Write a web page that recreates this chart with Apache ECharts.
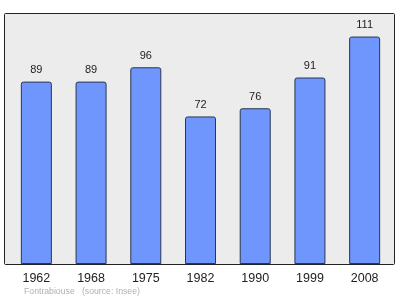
<!DOCTYPE html>
<html>
<head>
<meta charset="utf-8">
<script src="https://cdn.jsdelivr.net/npm/echarts@6/dist/echarts.min.js"></script>
<style>html,body{margin:0;padding:0;background:#fff;}#c{width:400px;height:299px;}</style>
</head>
<body>
<div id="c"></div>
<script>
var years = ['1962', '1968', '1975', '1982', '1990', '1999', '2008'];
var population = [89, 89, 96, 72, 76, 91, 111];
var footerText = 'Fontrabiouse   (source: Insee)';

var chart = echarts.init(document.getElementById('c'), null, {renderer: 'canvas'});
chart.setOption({
  animation: false,
  backgroundColor: '#ffffff',
  grid: {left: 9, right: 8, top: 14, bottom: 35},
  graphic: [
    {type: 'rect', z: -10, shape: {x: 4.5, y: 13.5, width: 390, height: 251, r: 1},
     style: {fill: '#ececec', stroke: '#222', lineWidth: 1}},
    {type: 'text', left: 24, top: 287, style: {text: footerText, fill: '#b0b0b0', font: '8.7px "Liberation Sans", Arial, sans-serif'}}
  ],
  xAxis: {
    type: 'category', data: years, boundaryGap: true,
    axisLine: {show: true, lineStyle: {color: '#222', width: 1}},
    axisTick: {show: false},
    axisLabel: {color: '#222', fontSize: 12.5, fontFamily: 'Liberation Sans', margin: 8}
  },
  yAxis: {
    type: 'value', min: 0, max: 122,
    axisLine: {show: false}, axisTick: {show: false},
    axisLabel: {show: false}, splitLine: {show: false}
  },
  series: [{
    type: 'bar', data: population, barWidth: 31,
    itemStyle: {color: '#6f96fc', borderColor: '#2a3550', borderWidth: 1, borderRadius: [2, 2, 0, 0]},
    label: {show: true, position: 'top', distance: 6, color: '#222', fontSize: 11, fontFamily: 'Liberation Sans'}
  }]
});
</script>
</body>
</html>
